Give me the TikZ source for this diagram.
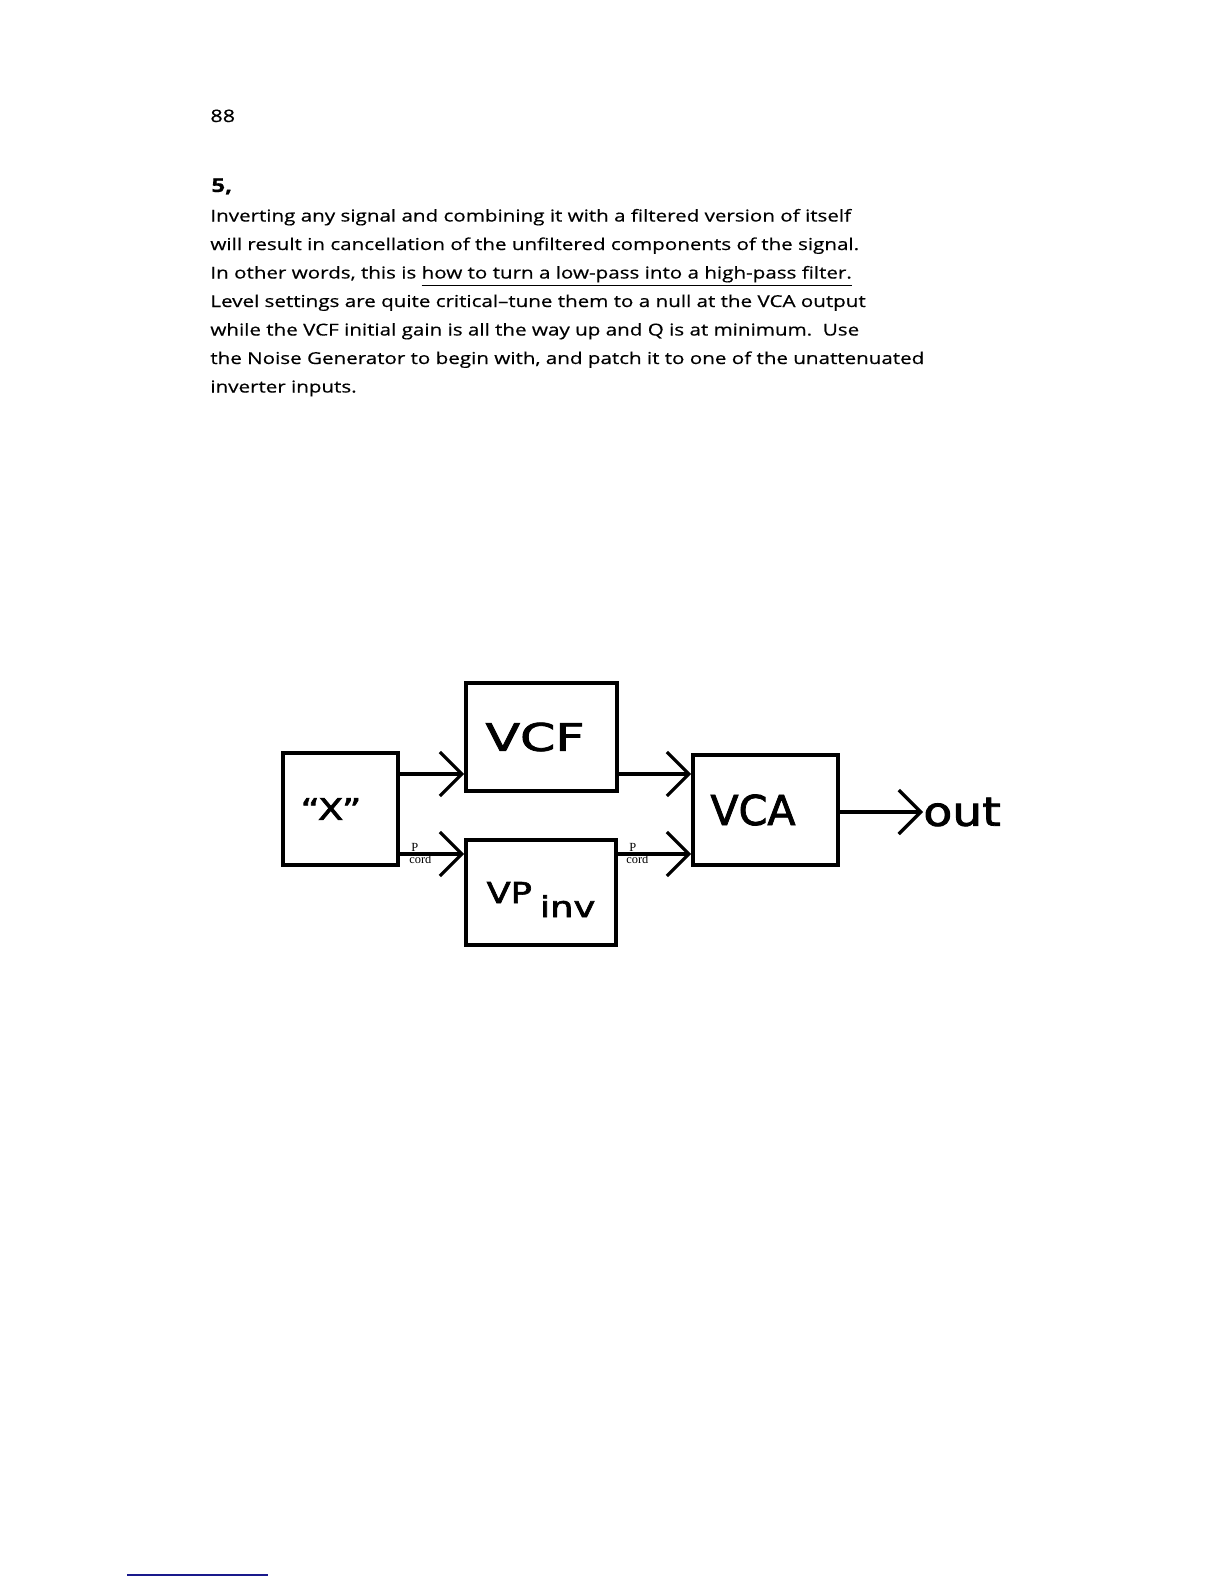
\documentclass[tikz,border=0pt]{standalone}
\usepackage{fontspec}
\usepackage{tikz}
\usetikzlibrary{arrows.meta}
\setmainfont{Open Sans}[FakeStretch=1.255,FakeBold=0.5]
\newfontfamily\handfont{DejaVu Sans}[FakeBold=2]
\newfontfamily\cordfont{Liberation Serif}
\definecolor{rulenavy}{RGB}{25,25,140}

\begin{document}
\begin{tikzpicture}[x=0.5pt,y=-0.5pt,
    box/.style={draw,line width=1.9pt,inner sep=0pt},
    wire/.style={line width=1.6pt,-{Straight Barb[length=11pt,width=22pt,line width=1.6pt]}},
    line/.style={anchor=base west,inner sep=0pt,font=\fontsize{8.2}{9}\selectfont},
    cord/.style={inner sep=0pt,anchor=base west,font=\cordfont\fontsize{6.2}{7}\selectfont}]
\useasboundingbox (0,0) rectangle (1224,1584);
\node[line,font=\fontsize{8.6}{11}\selectfont] (pg) at (210,122) {88};
\node[line,font=\bfseries\fontsize{9.6}{11}\selectfont] (num) at (211,192) {5,};
\node[line] (t1) at (210,221.5) {Inverting any signal and combining it with a filtered version of itself};
\node[line] (t2) at (210,250) {will result in cancellation of the unfiltered components of the signal.};
\node[line] (t3) at (210,278.5) {In other words, this is \underline{how to turn a low-pass into a high-pass filter.}};
\node[line] (t4) at (210,307) {Level settings are quite critical--tune them to a null at the VCA output};
\node[line] (t5) at (210,335.5) {while the VCF initial gain is all the way up and Q is at minimum.\ \ Use};
\node[line] (t6) at (210,364) {the Noise Generator to begin with, and patch it to one of the unattenuated};
\node[line] (t7) at (210,392.5) {inverter inputs.};

\coordinate (top) at (0,774);
\coordinate (bot) at (0,854);
\coordinate (mid) at (0,812);

\node[box,minimum width=57.5pt,minimum height=56pt,font=\handfont\fontsize{15}{18}\selectfont] (x) at (340.5,809)
    {\kern-9.5pt\scalebox{1.25}[1]{“X”}};
\node[box,minimum width=75.5pt,minimum height=54pt,font=\handfont\fontsize{19}{22}\selectfont] (vcf) at (541.5,737)
    {\kern-6.5pt\scalebox{1.33}[1]{VCF}};
\node[box,minimum width=75pt,minimum height=52.5pt,font=\handfont\fontsize{14.4}{18}\selectfont] (vp) at (541,892.5)
    {\rule{0pt}{17.5pt}\scalebox{1.22}[1]{VP}\hspace{4pt}\raisebox{-7pt}{\scalebox{1.28}[1]{inv}}};
\node[box,minimum width=72.5pt,minimum height=55pt,font=\handfont\fontsize{20.6}{22}\selectfont] (vca) at (765.5,810)
    {\kern-12.5pt VCA};
\node[anchor=west,inner sep=0pt,font=\handfont\fontsize{20}{22}\selectfont] (out) at (923,812)
    {\scalebox{1.18}[1]{out}};

\draw[wire] (x.east |- top) -- (vcf.west |- top);
\draw[wire] (x.east |- bot) -- (vp.west |- bot);
\draw[wire] (vcf.east |- top) -- (vca.west |- top);
\draw[wire] (vp.east |- bot) -- (vca.west |- bot);
\draw[wire] (vca.east |- mid) -- (out.west);

\node[cord] (p1) at ([xshift=5.5pt,yshift=1.5pt]x.east |- bot) {P};
\node[cord] (c1) at ([xshift=4.5pt,yshift=-4.5pt]x.east |- bot) {cord};
\node[cord] (p2) at ([xshift=5.5pt,yshift=1.5pt]vp.east |- bot) {P};
\node[cord] (c2) at ([xshift=4pt,yshift=-4.5pt]vp.east |- bot) {cord};

\draw[rulenavy,line width=0.6pt] (127,1575) -- (268,1575);
\end{tikzpicture}
\end{document}
